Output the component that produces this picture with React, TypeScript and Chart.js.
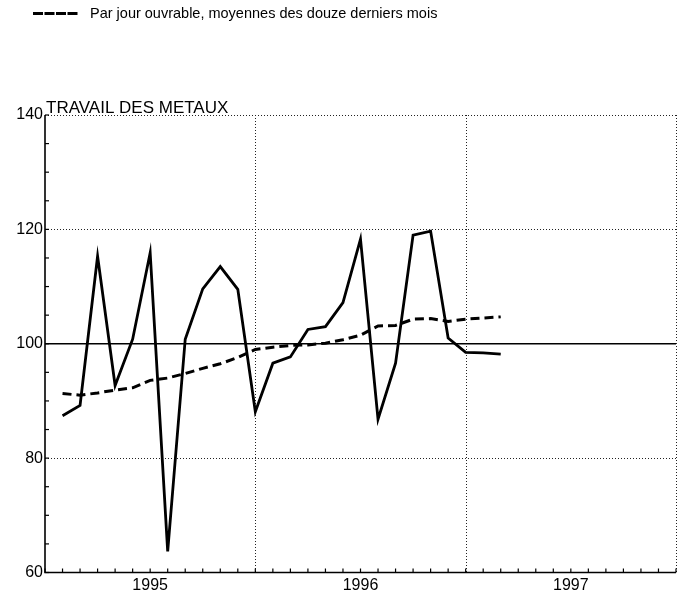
import React, { useEffect, useRef } from "react";
import { Chart, registerables } from "chart.js";

Chart.register(...registerables);

// Month index (end of month, 0 = start of 1995)
const months = [1, 2, 3, 4, 5, 6, 7, 8, 9, 10, 11, 12, 13, 14, 15, 16, 17, 18, 19, 20, 21, 22, 23, 24, 25, 26];
const monthlyValues = [87.4, 89.2, 115.3, 92.7, 100.8, 115.9, 63.7, 100.8, 109.6, 113.5, 109.5, 88.1, 96.6, 97.7, 102.5, 103.0, 107.2, 118.3, 86.8, 96.6, 119.0, 119.7, 101.0, 98.5, 98.4, 98.2];
const movingAverage = [91.3, 91.0, 91.4, 91.9, 92.3, 93.6, 94.0, 94.8, 95.7, 96.5, 97.6, 99.0, 99.4, 99.7, 99.8, 100.1, 100.7, 101.5, 103.1, 103.2, 104.3, 104.4, 103.9, 104.3, 104.5, 104.7];

const yearLabels = ["1995", "1996", "1997"];
const yearCenters = [6, 18, 30];
const yearBounds = [12, 24, 36];
const yTickValues = [60, 80, 100, 120, 140];
const yDottedLines = [80, 120, 140];
const yMinorStep = 5;
const chartTitle = "TRAVAIL DES METAUX";
const legendLabel = "Par jour ouvrable, moyennes des douze derniers mois";

const FONT = "'Liberation Sans', Arial, Helvetica, sans-serif";

const framePlugin = {
  id: "frame",
  beforeDatasetsDraw(chart: any) {
    const { ctx, chartArea } = chart;
    const xs = chart.scales.x;
    const ys = chart.scales.y;
    const { left, right, top, bottom } = chartArea;
    ctx.save();
    // dotted grid
    ctx.strokeStyle = "#222";
    ctx.lineWidth = 1;
    ctx.setLineDash([1, 2]);
    yDottedLines.forEach((v) => {
      const y = Math.round(ys.getPixelForValue(v)) + 0.5;
      ctx.beginPath();
      ctx.moveTo(left, y);
      ctx.lineTo(right, y);
      ctx.stroke();
    });
    yearBounds.forEach((v) => {
      const x = Math.round(xs.getPixelForValue(v)) + 0.5;
      ctx.beginPath();
      ctx.moveTo(x, top);
      ctx.lineTo(x, bottom);
      ctx.stroke();
    });
    ctx.setLineDash([]);
    // solid reference line at 100
    ctx.strokeStyle = "#000";
    ctx.lineWidth = 1.6;
    const y100 = ys.getPixelForValue(100);
    ctx.beginPath();
    ctx.moveTo(left, y100);
    ctx.lineTo(right, y100);
    ctx.stroke();
    // axes
    ctx.lineWidth = 1.6;
    ctx.beginPath();
    ctx.moveTo(left, top);
    ctx.lineTo(left, bottom);
    ctx.lineTo(right, bottom);
    ctx.stroke();
    // minor ticks
    ctx.lineWidth = 1.2;
    for (let v = ys.min; v <= ys.max; v += yMinorStep) {
      const y = ys.getPixelForValue(v);
      ctx.beginPath();
      ctx.moveTo(left, y);
      ctx.lineTo(left + 4, y);
      ctx.stroke();
    }
    for (let m = xs.min; m <= xs.max; m += 1) {
      const x = xs.getPixelForValue(m);
      ctx.beginPath();
      ctx.moveTo(x, bottom);
      ctx.lineTo(x, bottom - 4);
      ctx.stroke();
    }
    ctx.restore();
  },
  afterDraw(chart: any) {
    const { ctx, chartArea } = chart;
    ctx.save();
    ctx.fillStyle = "#000";
    // title
    ctx.font = `17px ${FONT}`;
    ctx.textAlign = "left";
    ctx.textBaseline = "alphabetic";
    ctx.fillText(chartTitle, chartArea.left + 1, chartArea.top - 2);
    // legend
    ctx.strokeStyle = "#000";
    ctx.lineWidth = 3;
    ctx.setLineDash([10, 1.5]);
    ctx.beginPath();
    ctx.moveTo(33, 13.5);
    ctx.lineTo(78, 13.5);
    ctx.stroke();
    ctx.setLineDash([]);
    ctx.font = `14.5px ${FONT}`;
    ctx.textBaseline = "middle";
    ctx.fillText(legendLabel, 90, 14);
    ctx.restore();
  },
};

export default function App() {
  const ref = useRef<HTMLCanvasElement | null>(null);
  useEffect(() => {
    if (!ref.current) return;
    const chart = new Chart(ref.current, {
      type: "line",
      data: {
        datasets: [
          {
            label: "Indice mensuel",
            data: months.map((m, i) => ({ x: m, y: monthlyValues[i] })),
            borderColor: "#000",
            borderWidth: 2.8,
            pointRadius: 0,
            tension: 0,
            fill: false,
          },
          {
            label: legendLabel,
            data: months.map((m, i) => ({ x: m, y: movingAverage[i] })),
            borderColor: "#000",
            borderWidth: 3,
            borderDash: [9, 5],
            pointRadius: 0,
            tension: 0,
            fill: false,
          },
        ],
      },
      options: {
        responsive: false,
        animation: false,
        layout: { padding: { top: 115, right: 12, left: 0, bottom: 0 } },
        plugins: {
          legend: { display: false },
          title: { display: false },
          tooltip: { enabled: false },
        },
        scales: {
          x: {
            type: "linear",
            min: 0,
            max: 36,
            grid: { display: false, drawTicks: false },
            border: { display: false },
            afterBuildTicks: (s: any) => {
              s.ticks = yearCenters.map((v) => ({ value: v }));
            },
            afterFit: (s: any) => {
              s.height = 23.5;
            },
            ticks: {
              autoSkip: false,
              maxRotation: 0,
              padding: 3,
              color: "#000",
              font: { family: FONT, size: 16 },
              callback: (v: any) => {
                const i = yearCenters.indexOf(Number(v));
                return i >= 0 ? yearLabels[i] : "";
              },
            },
          },
          y: {
            min: 60,
            max: 140,
            grid: { display: false, drawTicks: false },
            border: { display: false },
            afterBuildTicks: (s: any) => {
              s.ticks = yTickValues.map((v) => ({ value: v }));
            },
            afterFit: (s: any) => {
              s.width = 45;
            },
            ticks: {
              padding: 2,
              color: "#000",
              font: { family: FONT, size: 16 },
              callback: (v: any) => String(v),
            },
          },
        },
      },
      plugins: [framePlugin],
    });
    return () => chart.destroy();
  }, []);
  return (
    <div style={{ position: "absolute", left: 0, top: 0, width: 688, height: 596, background: "#fff" }}>
      <canvas ref={ref} width={688} height={596} />
    </div>
  );
}
